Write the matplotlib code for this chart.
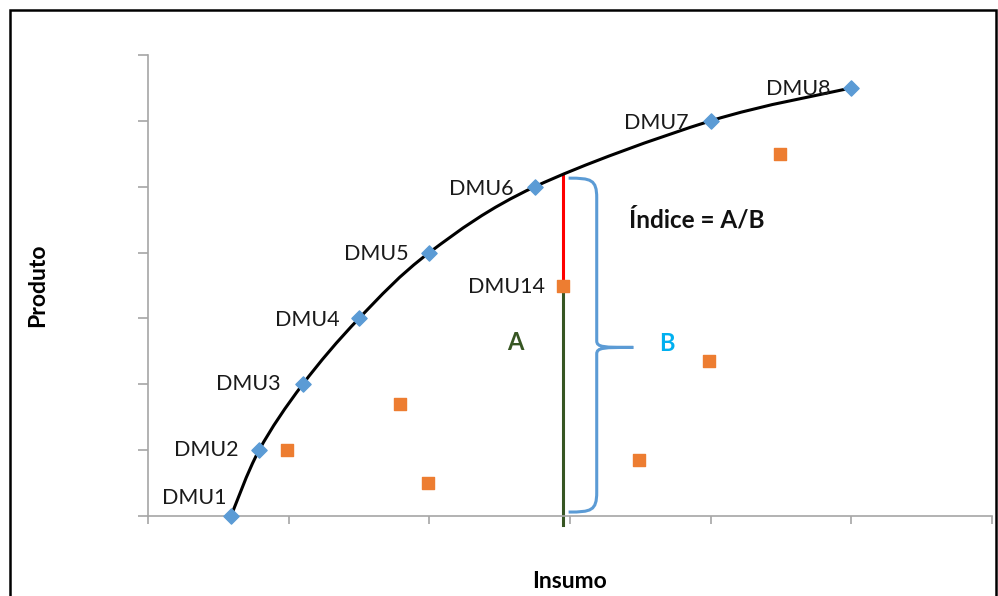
import matplotlib.pyplot as plt
from matplotlib.path import Path
from matplotlib.patches import PathPatch, Rectangle

plt.rcParams['font.family'] = ['Lato', 'DejaVu Sans']

# eficient DMUs (frontier)
dmu_names = ['DMU1', 'DMU2', 'DMU3', 'DMU4', 'DMU5', 'DMU6', 'DMU7', 'DMU8']
dmu_x = [0.59, 0.79, 1.10, 1.50, 2.00, 2.75, 4.00, 5.00]
dmu_y = [0.0, 1.0, 2.0, 3.0, 4.0, 5.0, 6.0, 6.5]

# other DMUs
other_x = [0.99, 1.79, 1.99, 2.95, 3.49, 3.99, 4.49]
other_y = [1.0, 1.7, 0.5, 3.5, 0.85, 2.35, 5.5]

# DMU14 measure line
dmu14_x = 2.95
dmu14_y = 3.5
frontier_at_14 = 5.16

fig = plt.figure(figsize=(9.98, 5.96), dpi=100)
ax = fig.add_axes([148 / 998, 80 / 596, 844 / 998, 461 / 596])

# smooth frontier (catmull-rom -> bezier)
pts = list(zip(dmu_x, dmu_y))
verts = [pts[0]]
codes = [Path.MOVETO]
for i in range(len(pts) - 1):
    p0 = pts[max(i - 1, 0)]
    p1 = pts[i]
    p2 = pts[i + 1]
    p3 = pts[min(i + 2, len(pts) - 1)]
    c1 = (p1[0] + (p2[0] - p0[0]) / 6, p1[1] + (p2[1] - p0[1]) / 6)
    c2 = (p2[0] - (p3[0] - p1[0]) / 6, p2[1] - (p3[1] - p1[1]) / 6)
    verts += [c1, c2, p2]
    codes += [Path.CURVE4] * 3
ax.add_patch(PathPatch(Path(verts, codes), facecolor='none', edgecolor='black', lw=2.2, zorder=2))

# vertical line through DMU14
ax.plot([dmu14_x, dmu14_x], [dmu14_y, frontier_at_14], color='#FF0000', lw=2.2, zorder=1)
ax.plot([dmu14_x, dmu14_x], [-0.14, dmu14_y], color='#375623', lw=2.2, zorder=1, clip_on=False)

ax.scatter(dmu_x, dmu_y, marker='D', s=60, color='#5B9BD5', zorder=3, clip_on=False)
ax.scatter(other_x, other_y, marker='s', s=80, color='#ED7D31', zorder=3)

lbl_off = {'DMU1': (-0.03, 0.28), 'DMU2': (-0.15, 0.0), 'DMU3': (-0.16, 0.0),
           'DMU4': (-0.14, -0.03), 'DMU5': (-0.15, -0.02), 'DMU6': (-0.15, -0.03),
           'DMU7': (-0.16, -0.03), 'DMU8': (-0.15, -0.02)}
for n, x, y in zip(dmu_names, dmu_x, dmu_y):
    dx, dy = lbl_off[n]
    ax.text(x + dx, y + dy, n, ha='right', va='center', fontsize=15.5, color='#1a1a1a')
ax.text(dmu14_x - 0.13, dmu14_y - 0.02, 'DMU14', ha='right', va='center', fontsize=15.5, color='#1a1a1a')

# brace B
bx = dmu14_x + 0.04
w = 0.2
tip = 0.26
mid = frontier_at_14 / 2 - 0.02
top = frontier_at_14 - 0.03
bot = 0.06
bv = [(bx, top), (bx + w * 0.8, top), (bx + w, top - 0.02), (bx + w, top - 0.3),
      (bx + w, mid + 0.1),
      (bx + w, mid), (bx + w + 0.05, mid), (bx + w + tip, mid),
      (bx + w + 0.05, mid), (bx + w, mid), (bx + w, mid - 0.1),
      (bx + w, bot + 0.3),
      (bx + w, bot + 0.02), (bx + w * 0.8, bot), (bx, bot)]
bc = [Path.MOVETO, Path.CURVE4, Path.CURVE4, Path.CURVE4,
      Path.LINETO,
      Path.CURVE4, Path.CURVE4, Path.CURVE4,
      Path.CURVE4, Path.CURVE4, Path.CURVE4,
      Path.LINETO,
      Path.CURVE4, Path.CURVE4, Path.CURVE4]
ax.add_patch(PathPatch(Path(bv, bc), facecolor='none', edgecolor='#5B9BD5', lw=2.2, zorder=1))

ax.text(3.9, 4.5, 'Índice = A/B', ha='center', va='center', fontsize=17.5, fontweight='bold', color='#111111')
ax.text(2.61, 2.63, 'A', ha='center', va='center', fontsize=17, fontweight='bold', color='#375623')
ax.text(3.69, 2.62, 'B', ha='center', va='center', fontsize=17, fontweight='bold', color='#00B0F0')

ax.set_xlim(0, 6)
ax.set_ylim(0, 7)
ax.set_xticks(range(7))
ax.set_yticks(range(8))
ax.set_xticklabels([])
ax.set_yticklabels([])
for s in ['top', 'right']:
    ax.spines[s].set_visible(False)
for s in ['left', 'bottom']:
    ax.spines[s].set_color('#A6A6A6')
    ax.spines[s].set_linewidth(1.2)
ax.tick_params(axis='both', color='#A6A6A6', width=1.2, length=6)
ax.tick_params(axis='y', length=7)

fig.text(38 / 998, 1 - 285 / 596, 'Produto', rotation=90, ha='center', va='center',
         fontsize=16.5, fontweight='bold')
fig.text(569 / 998, 1 - 582 / 596, 'Insumo', ha='center', va='center',
         fontsize=16.5, fontweight='bold')

fig.patches.append(Rectangle((10 / 998, -0.02), 986 / 998, 1.02 - 10 / 596,
                             transform=fig.transFigure, fill=False, edgecolor='black', lw=1.8))

fig.savefig('out.png', dpi=100)
